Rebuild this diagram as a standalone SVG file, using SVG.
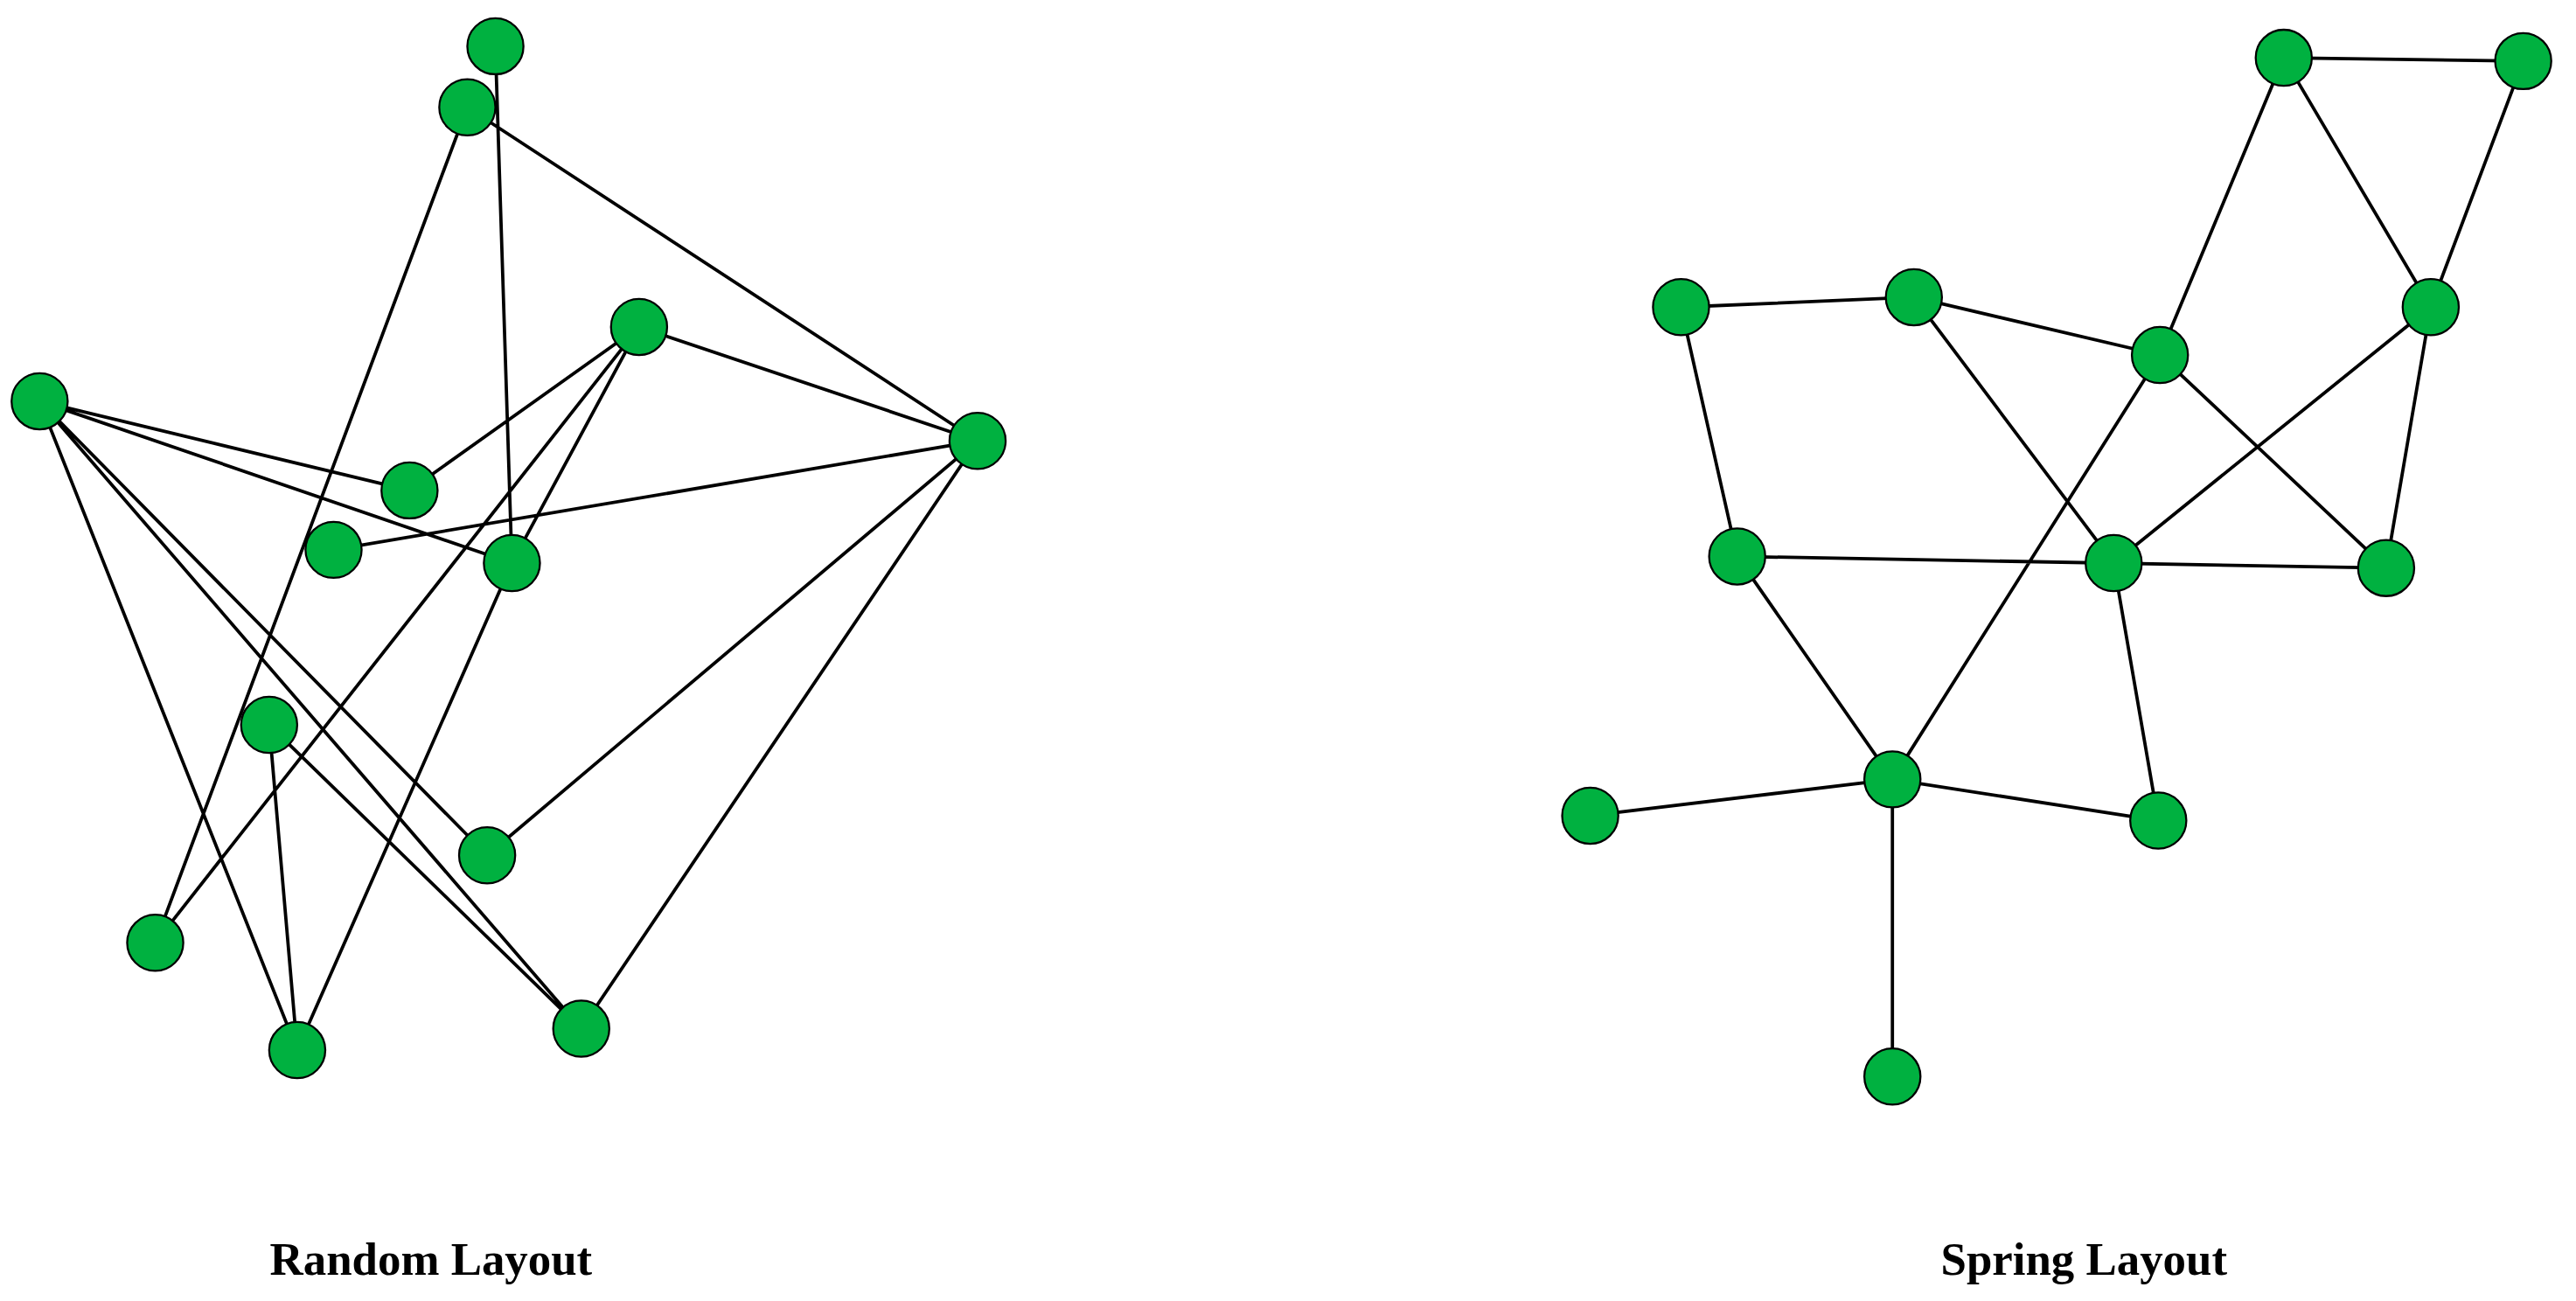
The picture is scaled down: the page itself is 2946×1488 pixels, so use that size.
<svg xmlns="http://www.w3.org/2000/svg" width="2946" height="1488" viewBox="0 0 2946 1488">
<style>
.e{stroke:#000;stroke-width:2;fill:none}
.n{fill:#00b140;stroke:#000;stroke-width:1.2}
.t{font-family:"Liberation Serif",serif;font-weight:bold;font-size:28px;text-anchor:middle}
</style>
<rect width="2946" height="1488" fill="#fff"/>
<g transform="scale(1.8885)">
<g id="connectors">
<path class="e" d="M300,28L310,341M283,65L94,571M283,65L592,267M387,198L248,297M387,198L592,267M387,198L94,571M387,198L310,341M310,341L180,636M24,243L248,297M24,243L310,341M24,243L295,518M24,243L352,623M24,243L180,636M202,333L592,267M592,267L295,518M592,267L352,623M163,439L180,636M163,439L352,623"/>
<path class="e" d="M1383,35L1528,37M1383,35L1308,215M1308,215L1146,472M1383,35L1472,186M1528,37L1472,186M1018,186L1159,180M1018,186L1052,337M1159,180L1308,215M1159,180L1280,341M1308,215L1445,344M1472,186L1280,341M1472,186L1445,344M1052,337L1445,344M1052,337L1146,472M1280,341L1307,497M1146,472L963,494M1146,472L1307,497M1146,472L1146,652"/>
</g>
<g id="nA"><circle class="n" cx="300" cy="28" r="17"/></g>
<g id="nB"><circle class="n" cx="283" cy="65" r="17"/></g>
<g id="nC"><circle class="n" cx="387" cy="198" r="17"/></g>
<g id="nD"><circle class="n" cx="24" cy="243" r="17"/></g>
<g id="nE"><circle class="n" cx="592" cy="267" r="17"/></g>
<g id="nF"><circle class="n" cx="248" cy="297" r="17"/></g>
<g id="nG"><circle class="n" cx="202" cy="333" r="17"/></g>
<g id="nH"><circle class="n" cx="310" cy="341" r="17"/></g>
<g id="nI"><circle class="n" cx="163" cy="439" r="17"/></g>
<g id="nJ"><circle class="n" cx="295" cy="518" r="17"/></g>
<g id="nK"><circle class="n" cx="94" cy="571" r="17"/></g>
<g id="nL"><circle class="n" cx="180" cy="636" r="17"/></g>
<g id="nM"><circle class="n" cx="352" cy="623" r="17"/></g>
<g id="sa"><circle class="n" cx="1383" cy="35" r="17"/></g>
<g id="sb"><circle class="n" cx="1528" cy="37" r="17"/></g>
<g id="sc"><circle class="n" cx="1018" cy="186" r="17"/></g>
<g id="sd"><circle class="n" cx="1159" cy="180" r="17"/></g>
<g id="se"><circle class="n" cx="1308" cy="215" r="17"/></g>
<g id="sf"><circle class="n" cx="1472" cy="186" r="17"/></g>
<g id="sg"><circle class="n" cx="1052" cy="337" r="17"/></g>
<g id="sh"><circle class="n" cx="1280" cy="341" r="17"/></g>
<g id="si"><circle class="n" cx="1445" cy="344" r="17"/></g>
<g id="sj"><circle class="n" cx="963" cy="494" r="17"/></g>
<g id="sk"><circle class="n" cx="1146" cy="472" r="17"/></g>
<g id="sl"><circle class="n" cx="1307" cy="497" r="17"/></g>
<g id="sm"><circle class="n" cx="1146" cy="652" r="17"/></g>
<text class="t" x="261" y="772">Random Layout</text>
<text class="t" x="1262" y="772">Spring Layout</text>
</g>
</svg>
